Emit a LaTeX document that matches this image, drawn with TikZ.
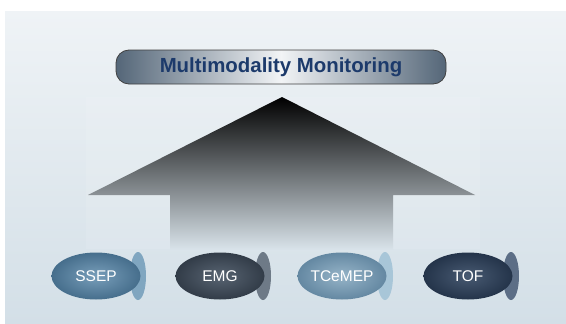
\documentclass[tikz,border=0pt]{standalone}
\usepackage{fontspec}
\setmainfont{Liberation Sans}
\usepackage{xcolor}
\usepackage{tikz}
\definecolor{bgtop}{RGB}{239, 243, 246}
\definecolor{bgbottom}{RGB}{211, 223, 231}
\definecolor{titleblue}{RGB}{28, 58, 107}
\definecolor{bannerdark}{RGB}{84, 102, 120}
\definecolor{bannerlight}{RGB}{242, 244, 246}
\definecolor{ssepin}{RGB}{120, 158, 186}
\definecolor{ssepout}{RGB}{70, 110, 140}
\definecolor{ssepside}{RGB}{128, 166, 192}
\definecolor{emgin}{RGB}{88, 100, 114}
\definecolor{emgout}{RGB}{50, 60, 72}
\definecolor{emgside}{RGB}{110, 122, 135}
\definecolor{tcein}{RGB}{150, 180, 200}
\definecolor{tceout}{RGB}{100, 136, 162}
\definecolor{tceside}{RGB}{168, 198, 216}
\definecolor{tofin}{RGB}{72, 90, 114}
\definecolor{tofout}{RGB}{36, 52, 74}
\definecolor{tofside}{RGB}{92, 110, 134}
\usetikzlibrary{shapes.geometric,positioning}

\begin{document}
\begin{tikzpicture}[
    x=1pt, y=-1pt,
    banner/.style={
        rectangle,
        rounded corners=13pt,
        minimum width=330pt,
        minimum height=34pt,
        draw=black!75,
        line width=0.8pt,
        left color=bannerdark,
        right color=bannerdark,
        middle color=bannerlight,
        text=titleblue,
        font=\fontsize{20.4}{22}\selectfont\bfseries
    },
    pod/.style={
        ellipse,
        minimum width=89pt,
        minimum height=47pt,
        inner sep=0pt,
        text=white,
        font=\fontsize{15.5}{16}\selectfont
    }
]
    \useasboundingbox (0,0) rectangle (566,324);
    % Background
    \fill[white] (0,0) rectangle (566,324);
    \shade[top color=bgtop, bottom color=bgbottom] (5,11) rectangle (566,324);
    \fill[white, opacity=0.1] (86,97) rectangle (480,249);

    % Title banner
    \node[banner] (banner) at (281,67) {Multimodality Monitoring};

    % Big arrow
    \shade[top color=black, bottom color=bgbottom!85!white]
        (282,97) -- (475,195) -- (393,195) -- (393,250)
        -- (170,250) -- (170,195) -- (88,195) -- cycle;

    % Modalities
    \fill[ssepside] (138,276) ellipse [x radius=8, y radius=24];
    \node[pod, inner color=ssepin, outer color=ssepout] (ssep) at (96,276) {SSEP};

    \fill[emgside] (263,276) ellipse [x radius=8, y radius=24];
    \node[pod, inner color=emgin, outer color=emgout] (emg) at (220,276) {EMG};

    \fill[tceside] (385,276) ellipse [x radius=8, y radius=24];
    \node[pod, inner color=tcein, outer color=tceout] (tcemep) at (342,276) {TCeMEP};

    \fill[tofside] (511,276) ellipse [x radius=8, y radius=24];
    \node[pod, inner color=tofin, outer color=tofout] (tof) at (468,276) {TOF};
\end{tikzpicture}
\end{document}
